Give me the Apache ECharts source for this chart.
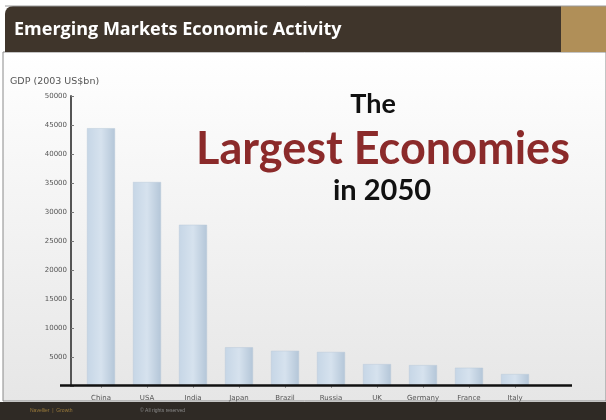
<!DOCTYPE html>
<html><head><meta charset="utf-8">
<script src="https://cdn.jsdelivr.net/npm/echarts@6/dist/echarts.min.js"></script>
<style>html,body{margin:0;padding:0;background:#fff}#c{width:606px;height:420px}</style>
</head><body><div id="c"></div>
<script>
const categories = ['China','USA','India','Japan','Brazil','Russia','UK','Germany','France','Italy'];
const gdp2050 = [44450, 35170, 27800, 6670, 6070, 5870, 3780, 3600, 3150, 2060];
const yTicks = [0, 5000, 10000, 15000, 20000, 25000, 30000, 35000, 40000, 45000, 50000];
const titleText = 'Emerging Markets Economic Activity';
const axisTitle = 'GDP (2003 US$bn)';
const headline = ['The', 'Largest Economies', 'in 2050'];

const chart = echarts.init(document.getElementById('c'), null, {renderer:'canvas'});
const option = {
  animation:false,
  backgroundColor:'#ffffff',
  graphic:[
    {type:'rect', z:-10, shape:{x:3,y:52,width:603,height:349},
     style:{fill:new echarts.graphic.LinearGradient(0,0,0,1,[{offset:0,color:'#ffffff'},{offset:1,color:'#e6e6e6'}]), stroke:'#8a8a8a', lineWidth:1}},
    {type:'rect', z:-9, shape:{x:5,y:6,width:556,height:46,r:[8,0,0,0]}, style:{fill:'#3f352b'}},
    {type:'rect', z:-9, shape:{x:561,y:6,width:45,height:46}, style:{fill:'#b08f58'}},
    {type:'line', z:-9, shape:{x1:5,y1:6,x2:606,y2:6}, style:{stroke:'#9a9a9a',lineWidth:1}},
    {type:'text', style:{x:14, y:30, text:titleText, fill:'#ffffff', font:'bold 18px "Open Sans"', textVerticalAlign:'middle'}},
    {type:'rect', z:-9, shape:{x:0,y:402,width:606,height:18}, style:{fill:'#2f2a25'}},
    {type:'text', style:{x:30, y:411, text:'Navellier  |  Growth', fill:'#9a7a3a', font:'5px "Liberation Sans"', textVerticalAlign:'middle'}},
    {type:'text', style:{x:140, y:411, text:'© All rights reserved', fill:'#8a8a8a', font:'5px "Liberation Sans"', textVerticalAlign:'middle'}},
    {type:'text', style:{x:10, y:82, text:axisTitle, fill:'#555', font:'9.5px "DejaVu Sans"', textVerticalAlign:'middle'}},
    {type:'text', style:{x:373, y:104, text:headline[0], fill:'#111', font:'bold 27px "Lato"', textAlign:'center', textVerticalAlign:'middle'}},
    {type:'text', style:{x:383, y:149, text:headline[1], fill:'#8b2a2a', font:'bold 45px "Lato"', textAlign:'center', textVerticalAlign:'middle'}},
    {type:'text', style:{x:382, y:191, text:headline[2], fill:'#111', font:'bold 29px "Lato"', textAlign:'center', textVerticalAlign:'middle'}},
    {type:'line', z:5, shape:{x1:60,y1:385.5,x2:572,y2:385.5}, style:{stroke:'#111',lineWidth:2.5}}
  ],
  grid:{left:78, right:68, top:96, bottom:34, containLabel:false},
  xAxis:{type:'category', data:categories,
    axisLine:{show:false}, axisTick:{show:true, alignWithLabel:true, length:2, lineStyle:{color:'#999'}},
    axisLabel:{fontSize:7, color:'#555', margin:9, fontFamily:'DejaVu Sans'}},
  yAxis:{type:'value', min:0, max:50000, interval:5000, offset:7,
    axisLine:{show:true, lineStyle:{color:'#555', width:2}},
    axisTick:{show:true, inside:true, length:3, lineStyle:{color:'#777'}},
    splitLine:{show:false},
    axisLabel:{fontSize:7, color:'#555', margin:4, fontFamily:'DejaVu Sans',
      formatter:v=> v===0 ? '' : String(v)}},
  series:[{type:'bar', data:gdp2050, barWidth:28,
    itemStyle:{color:new echarts.graphic.LinearGradient(0,0,1,0,[{offset:0,color:'#c6d6e6'},{offset:0.5,color:'#d6e2ee'},{offset:1,color:'#b4c6d8'}]),
      borderColor:'#b8c8d8', borderWidth:0.5}}]
};
chart.setOption(option);
</script></body></html>
